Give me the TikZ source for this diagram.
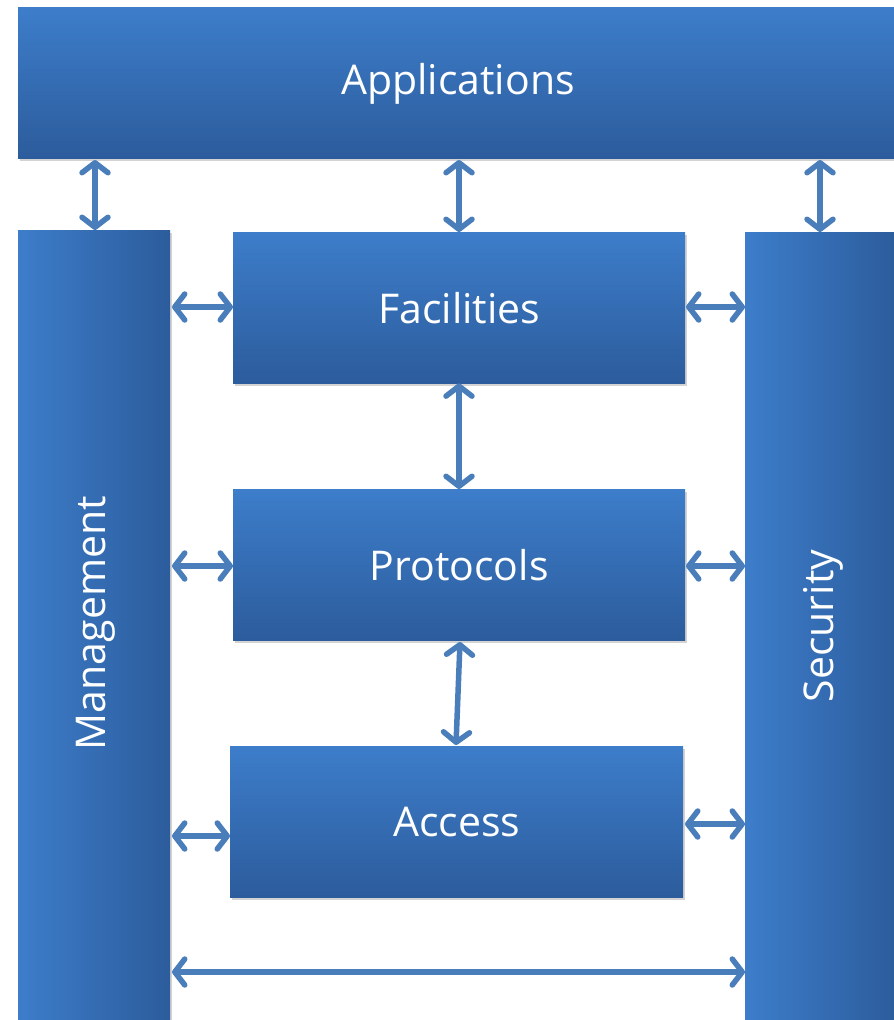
\documentclass[tikz,border=0pt]{standalone}
\usepackage{fontspec}
\setmainfont{Open Sans}
\usetikzlibrary{arrows.meta,shadows}
\definecolor{bl}{HTML}{3D7DCA}
\definecolor{bd}{HTML}{2C5C9C}
\definecolor{ar}{HTML}{4A7EBB}
\tikzset{
  lbl/.style={text=white, font=\fontsize{41}{48}\selectfont},
  hbox/.style={anchor=north west, inner sep=0pt, top color=bl, bottom color=bd, draw=none, lbl,
     drop shadow={shadow xshift=2pt, shadow yshift=-3pt, opacity=0.35}},
  vbox/.style={anchor=north west, inner sep=0pt, left color=bl, right color=bd, draw=none, lbl,
     drop shadow={shadow xshift=2pt, shadow yshift=-3pt, opacity=0.35}},
  arr/.style={draw=ar, line width=5.5pt, line cap=round,
     {Straight Barb[length=10pt,width=26pt,round]}-{Straight Barb[length=10pt,width=26pt,round]}}
}
\begin{document}
\begin{tikzpicture}[x=1pt,y=-1pt]
\useasboundingbox (0,0) rectangle (894,1020);
\begin{scope}
\clip (0,0) rectangle (894,1020);
\node[hbox, minimum width=896pt, minimum height=151pt] (app) at (18,7) {};
\node[lbl] (appt) at (458,84) {Applications};
\node[vbox, minimum width=152pt, minimum height=800pt] (mgmt) at (18,230) {};
\node[rotate=90, lbl] (mgmtt) at (96,623) {Management};
\node[vbox, minimum width=152pt, minimum height=800pt] (sec) at (745,232) {};
\node[rotate=90, lbl] (sect) at (823,626) {Security};
\end{scope}
\node[hbox, minimum width=452pt, minimum height=151pt] (fac) at (233,232) {Facilities};
\node[hbox, minimum width=452pt, minimum height=151pt] (pro) at (233,489) {Protocols};
\node[hbox, minimum width=453pt, minimum height=151pt] (acc) at (230,746) {Access};
% vertical arrows from Applications
\coordinate (a1) at (95,160);
\coordinate (a2) at (459,160);
\coordinate (a3) at (820,160);
\draw[arr] (a1) -- (a1 |- mgmt.north);
\draw[arr] (a2) -- (a2 |- fac.north);
\draw[arr] (a3) -- (a3 |- sec.north);
% between center boxes
\draw[arr] (fac.south -| a2) -- (pro.north -| a2);
\coordinate (p1) at (460,642);
\coordinate (p2) at (456,745);
\draw[arr] (p1) -- (p2);
% horizontal arrows left
\coordinate (l1) at (172,307);
\coordinate (l2) at (172,566);
\coordinate (l3) at (172,836);
\draw[arr] (l1) -- (l1 -| fac.west);
\draw[arr] (l2) -- (l2 -| pro.west);
\draw[arr] (l3) -- (l3 -| acc.west);
% horizontal arrows right
\coordinate (r1) at (686,307);
\coordinate (r2) at (686,566);
\coordinate (r3) at (685,824);
\draw[arr] (r1) -- (r1 -| sec.west);
\draw[arr] (r2) -- (r2 -| sec.west);
\draw[arr] (r3) -- (r3 -| sec.west);
% bottom arrow
\coordinate (b1) at (172,972);
\draw[arr] (b1) -- (b1 -| sec.west);
\end{tikzpicture}
\end{document}
